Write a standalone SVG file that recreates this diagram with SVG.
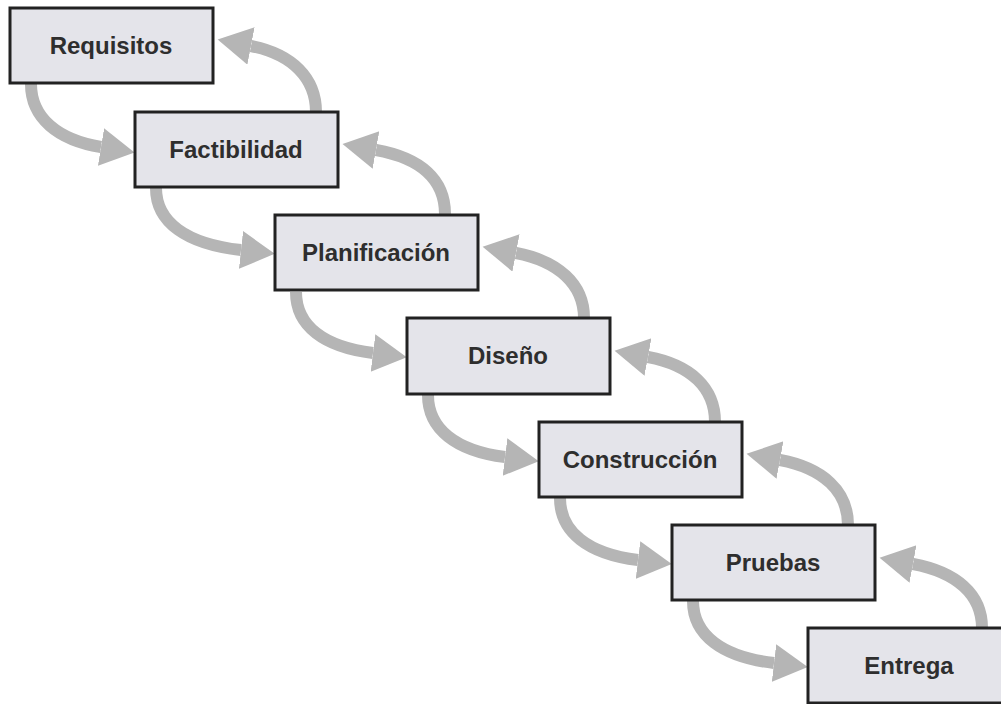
<svg xmlns="http://www.w3.org/2000/svg" width="1001" height="704" viewBox="0 0 1001 704">
  <style>
    .box { fill: #e4e4ea; stroke: #222; stroke-width: 3; }
    .lbl { font-family: "Liberation Sans", Arial, sans-serif; font-weight: bold; font-size: 24px; fill: #2e2e2e; text-anchor: middle; }
    .flow { fill: none; stroke: #b5b5b5; stroke-width: 12; marker-end: url(#head); }
  </style>
  <defs>
    <marker id="head" markerUnits="userSpaceOnUse" markerWidth="36" markerHeight="40" refX="0" refY="19" orient="auto">
      <path d="M0,0 L34,19 L0,38 Z" fill="#b5b5b5"/>
    </marker>
  </defs>
  <rect width="1001" height="704" fill="#ffffff"/>

  <!-- connectors: forward (down the cascade) and back (feedback) -->
  <g id="connectors">
    <!-- forward -->
    <path class="flow" d="M31,84 C31,118 58,140 101,147"/>
    <path class="flow" d="M156,188 C156,222 186,244 241,250"/>
    <path class="flow" d="M296,292 C296,326 324,347 373,353"/>
    <path class="flow" d="M428,395 C428,429 456,451 505,457"/>
    <path class="flow" d="M560,498 C560,532 588,554 638,560"/>
    <path class="flow" d="M693,601 C693,635 722,657 774,663"/>
    <!-- back -->
    <path class="flow" d="M316,112 C316,78 292,54 251,46"/>
    <path class="flow" d="M445,214 C445,180 421,158 376,150"/>
    <path class="flow" d="M584,318 C584,284 558,261 516,253"/>
    <path class="flow" d="M715,422 C715,388 691,365 648,357"/>
    <path class="flow" d="M848,525 C848,491 823,468 780,460"/>
    <path class="flow" d="M982,628 C982,594 956,572 913,564"/>
  </g>

  <g id="requisitos">
    <rect class="box" x="10" y="8" width="203" height="75"/>
    <text class="lbl" x="111" y="54">Requisitos</text>
  </g>
  <g id="factibilidad">
    <rect class="box" x="135" y="112" width="203" height="75"/>
    <text class="lbl" x="236" y="158">Factibilidad</text>
  </g>
  <g id="planificacion">
    <rect class="box" x="275" y="215" width="203" height="75"/>
    <text class="lbl" x="376" y="261">Planificación</text>
  </g>
  <g id="diseno">
    <rect class="box" x="407" y="318" width="203" height="76"/>
    <text class="lbl" x="508" y="364">Diseño</text>
  </g>
  <g id="construccion">
    <rect class="box" x="539" y="422" width="203" height="75"/>
    <text class="lbl" x="640" y="468">Construcción</text>
  </g>
  <g id="pruebas">
    <rect class="box" x="672" y="525" width="203" height="75"/>
    <text class="lbl" x="773" y="571">Pruebas</text>
  </g>
  <g id="entrega">
    <rect class="box" x="808" y="628" width="203" height="75"/>
    <text class="lbl" x="909" y="674">Entrega</text>
  </g>
</svg>
